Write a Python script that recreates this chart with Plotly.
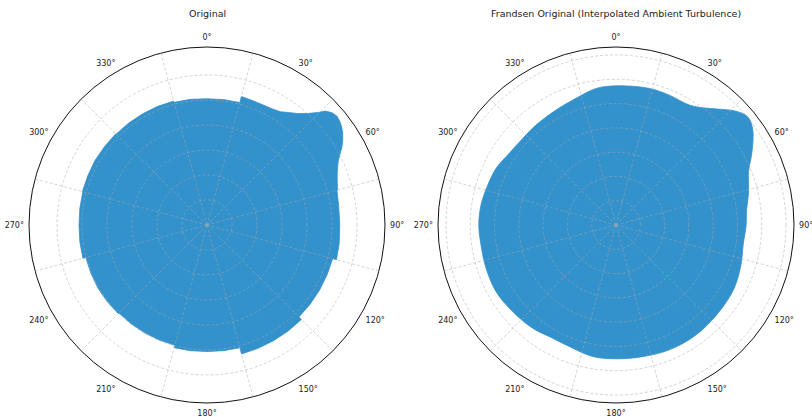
import plotly.graph_objects as go

# ---------------- data ----------------
# Left panel "Original": outline radius per direction (deg, clockwise from north)
orig_theta = [345, 352.5, 0, 7.5, 15,
              15, 20, 25, 30, 33, 36, 39, 42, 45,
              46, 48, 50, 52, 54, 56, 58, 60, 62, 64, 66, 68, 70, 72, 75,
              75, 82, 90, 98, 105,
              105, 112.5, 120, 127.5, 135,
              135, 142.5, 150, 157.5, 165,
              165, 172.5, 180, 187.5, 195,
              195, 202.5, 210, 217.5, 225,
              225, 232.5, 240, 247.5, 255,
              255, 262.5, 270, 277.5, 285,
              285, 292.5, 300, 307.5, 315,
              315, 322.5, 330, 337.5, 345]
orig_r = [5.08, 5.07, 5.05, 5.06, 5.07,
          5.32, 5.30, 5.30, 5.34, 5.40, 5.56, 5.74, 6.00, 6.38,
          6.56, 6.72, 6.78, 6.74, 6.66, 6.55, 6.40, 6.23, 6.02, 5.84, 5.72, 5.62, 5.54, 5.48, 5.40,
          5.38, 5.32, 5.31, 5.34, 5.36,
          5.20, 5.20, 5.20, 5.20, 5.20,
          5.34, 5.34, 5.34, 5.34, 5.34,
          5.08, 5.07, 5.06, 5.07, 5.08,
          4.98, 4.98, 4.98, 4.98, 4.98,
          5.02, 5.03, 5.04, 5.03, 5.02,
          5.14, 5.13, 5.12, 5.13, 5.14,
          5.16, 5.16, 5.17, 5.16, 5.16,
          5.14, 5.14, 5.14, 5.14, 5.13]

# Right panel "Frandsen Original (Interpolated Ambient Turbulence)"
frand_theta = [0, 13.7, 22.3, 31.4, 36.4, 41.7, 46.5, 50.6, 54.7, 59.7, 63.7, 68.1,
               75.9, 84.2, 90, 98.9, 107.7, 118.2, 130, 144, 156.9, 168.6, 180, 190,
               201, 209.2, 218.9, 230, 240.9, 251.6, 261.6, 270, 278.4, 287.3, 295.3,
               302.9, 312.9, 321.3, 332.5, 342.5, 351.7, 360]
frand_r = [5.73, 5.79, 5.78, 5.79, 6.00, 6.39, 6.81, 7.02, 6.89, 6.52, 6.20, 5.88,
           5.63, 5.40, 5.36, 5.30, 5.40, 5.52, 5.55, 5.60, 5.59, 5.53, 5.51, 5.50,
           5.36, 5.34, 5.46, 5.55, 5.65, 5.64, 5.62, 5.65, 5.62, 5.53, 5.46,
           5.31, 5.24, 5.27, 5.34, 5.47, 5.68, 5.73]

titles = ["Original", "Frandsen Original (Interpolated Ambient Turbulence)"]
label_angles = [0, 30, 60, 90, 120, 150, 180, 210, 240, 270, 300, 330]
label_text = [f"{a}°" for a in label_angles]
grid_angles = [15, 45, 75, 105, 135, 165, 195, 225, 255, 285, 315, 345]
left_rgrid = [1, 2, 3, 4, 5, 6]
right_rgrid = [1, 2, 3, 4, 5, 6, 7]
left_rmax = 7.12
right_rmax = 7.33

# ---------------- styling ----------------
W, H = 812, 417
FILL = "#3391cc"
GRID = "rgba(170,170,170,0.5)"
TXT = "#222222"
FONT = "DejaVu Sans"

fig = go.Figure()

fig.add_trace(go.Scatterpolar(r=orig_r, theta=orig_theta, mode="lines", fill="toself",
                              fillcolor=FILL, line=dict(color=FILL, width=0.8),
                              subplot="polar", showlegend=False, hoverinfo="skip"))
fig.add_trace(go.Scatterpolar(r=frand_r, theta=frand_theta, mode="lines", fill="toself",
                              fillcolor=FILL, line=dict(color=FILL, width=0.8, shape="spline"),
                              subplot="polar2", showlegend=False, hoverinfo="skip"))
# invisible anchors for the grid overlays
fig.add_trace(go.Scatterpolar(r=[0], theta=[0], mode="markers", marker=dict(opacity=0),
                              subplot="polar3", showlegend=False, hoverinfo="skip"))
fig.add_trace(go.Scatterpolar(r=[0], theta=[0], mode="markers", marker=dict(opacity=0),
                              subplot="polar4", showlegend=False, hoverinfo="skip"))


def dom(cx, cy, rad):
    return dict(x=[(cx - rad) / W, (cx + rad) / W],
                y=[(H - cy - rad) / H, (H - cy + rad) / H])


def base_polar(d, rmax):
    return dict(
        domain=d, bgcolor="white",
        angularaxis=dict(direction="clockwise", rotation=90, tickmode="array",
                         tickvals=label_angles, ticktext=label_text, showgrid=False,
                         showline=True, linecolor="#111111", linewidth=1,
                         ticks="outside", ticklen=3, tickcolor="rgba(0,0,0,0)",
                         tickfont=dict(family=FONT, size=8, color=TXT)),
        radialaxis=dict(range=[0, rmax], showgrid=False, showline=False,
                        showticklabels=False, ticks=""),
    )


def grid_polar(d, rmax, rgrid):
    return dict(
        domain=d, bgcolor="rgba(0,0,0,0)",
        angularaxis=dict(direction="clockwise", rotation=90, tickmode="array",
                         tickvals=grid_angles, showticklabels=False, showgrid=True,
                         gridcolor=GRID, gridwidth=0.8, griddash="3px,2px",
                         showline=False, ticks=""),
        radialaxis=dict(range=[0, rmax], tickmode="array", tickvals=rgrid, showgrid=True,
                        gridcolor=GRID, gridwidth=0.8, griddash="3px,2px",
                        showline=False, showticklabels=False, ticks=""),
    )


dl = dom(207, 225, 178)
dr = dom(616, 225, 178)

fig.update_layout(
    width=W, height=H,
    margin=dict(l=0, r=0, t=0, b=0),
    paper_bgcolor="white",
    font=dict(family=FONT, color=TXT),
    polar=base_polar(dl, left_rmax),
    polar2=base_polar(dr, right_rmax),
    polar3=grid_polar(dl, left_rmax, left_rgrid),
    polar4=grid_polar(dr, right_rmax, right_rgrid),
    annotations=[
        dict(text=titles[0], x=207 / W, y=(H - 13) / H, xref="paper", yref="paper",
             showarrow=False, xanchor="center", yanchor="middle",
             font=dict(family=FONT, size=9.5, color=TXT)),
        dict(text=titles[1], x=616 / W, y=(H - 13) / H, xref="paper", yref="paper",
             showarrow=False, xanchor="center", yanchor="middle",
             font=dict(family=FONT, size=9.5, color=TXT)),
    ],
)

fig.write_html("out.html", config={"displayModeBar": False},
               post_script="document.body.style.margin='0';document.body.style.overflow='hidden';")
